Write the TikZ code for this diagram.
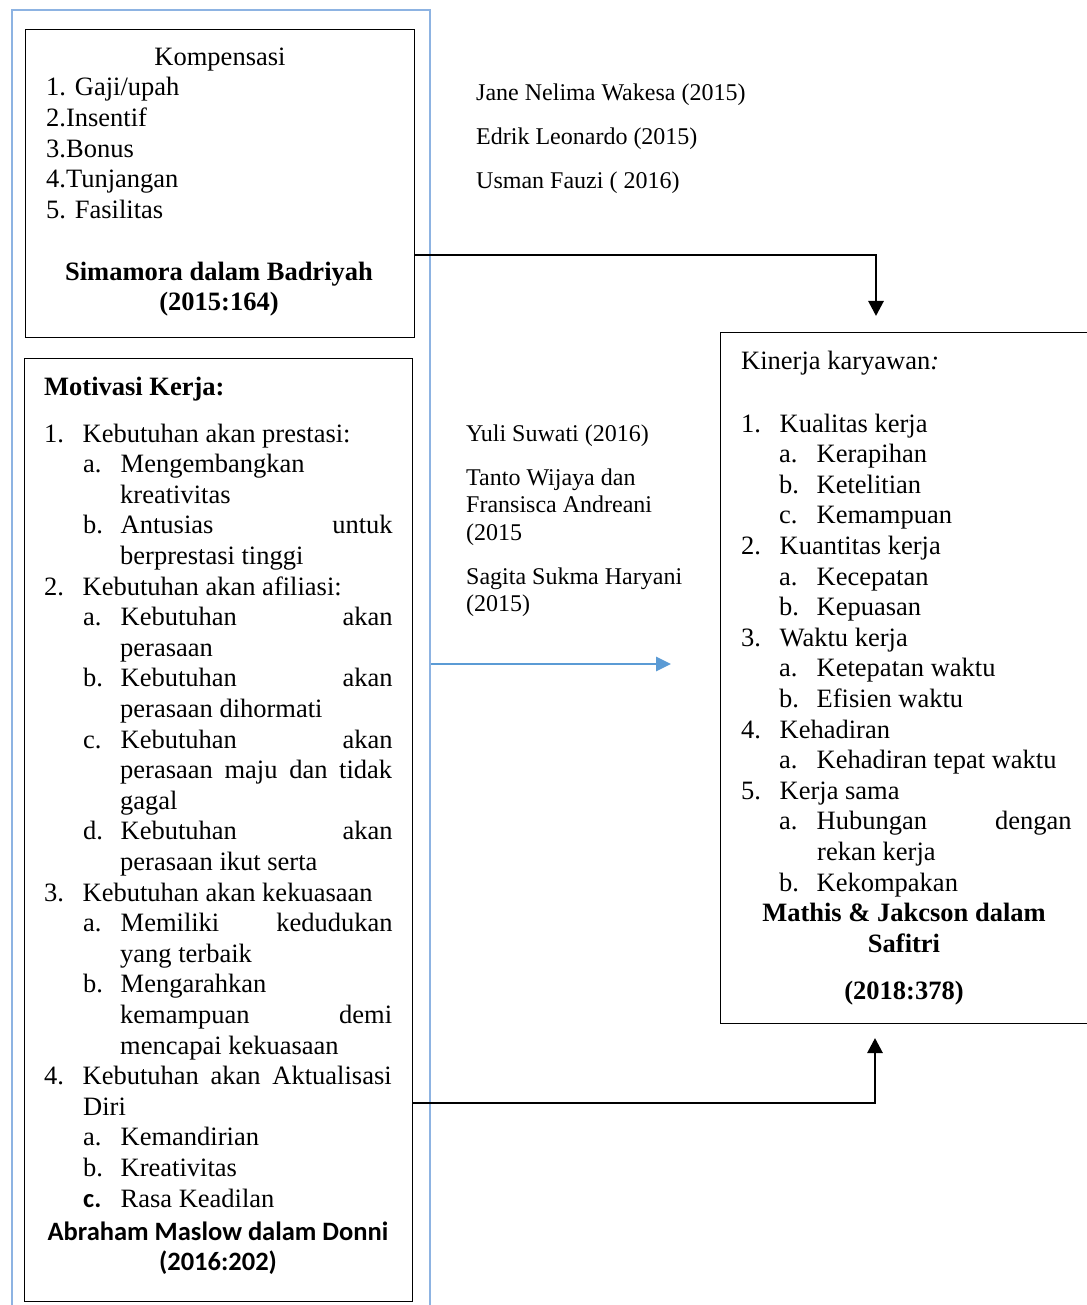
\documentclass[tikz,border=0pt]{standalone}
\usepackage{fontspec}
\setmainfont{Liberation Serif}
\newfontfamily\calibri{Carlito}
\usetikzlibrary{arrows.meta}

\definecolor{framebl}{HTML}{8DB3E2}
\definecolor{arrowbl}{HTML}{5B9BD5}

\tikzset{
  box/.style={draw=black, line width=1.2pt, inner sep=0pt, anchor=north west},
  txt/.style={anchor=base west, inner sep=0pt, yshift=-2pt, font=\fontsize{26.5}{30.6}\selectfont},
  ctxt/.style={anchor=base, inner sep=0pt, yshift=-2pt, font=\fontsize{26.5}{30.6}\selectfont},
  reftxt/.style={anchor=base west, inner sep=0pt, yshift=-2pt, font=\fontsize{24}{27.5}\selectfont},
  conn/.style={line width=2.8pt, -{Triangle[length=15pt,width=15pt]}},
  blueconn/.style={arrowbl, line width=2.8pt, -{Triangle[length=15pt,width=14pt]}},
}
\newcommand{\numb}[1]{\makebox[38.5pt][l]{#1}}
\newcommand{\lett}[1]{\makebox[37.5pt][l]{#1}}
\newcommand{\just}[2]{\makebox[#1pt][s]{#2}}

\begin{document}
\begin{tikzpicture}[x=1pt, y=-1pt]
    \useasboundingbox (0,0) rectangle (1086,1305);

    % Blue frame
    \draw[framebl, line width=1.5pt] (12,1310) -- (12,10) -- (430,10) -- (430,1310);

    % Boxes
    \node[box, minimum width=389pt, minimum height=308pt] (komp) at (25,29) {};
    \node[box, minimum width=388pt, minimum height=943pt] (mot) at (24,358) {};
    \node[box, minimum width=380pt, minimum height=691pt] (kin) at (720,332) {};

    % Kompensasi
    \node[ctxt] (kt) at (220,64) {Kompensasi};
    \node[txt] (k1) at (46,94) {1. Gaji/upah};
    \node[txt] (k2) at (46,124.6) {2.Insentif};
    \node[txt] (k3) at (46,155.2) {3.Bonus};
    \node[txt] (k4) at (46,185.8) {4.Tunjangan};
    \node[txt] (k5) at (46,216.4) {5. Fasilitas};
    \node[ctxt] (ksrc) at (219,278) {\textbf{Simamora dalam Badriyah}};
    \node[ctxt] (kyr) at (219,308.6) {\textbf{(2015:164)}};

    % Motivasi kerja
    \node[txt] (mt) at (44,393) {\textbf{Motivasi Kerja:}};
    \node[txt] (m1) at (44,440) {\numb{1.}Kebutuhan akan prestasi:};
    \node[txt] (m1a) at (83,470.6) {\lett{a.}Mengembangkan};
    \node[txt] (m1a2) at (120,501.2) {kreativitas};
    \node[txt] (m1b) at (83,531.8) {\lett{b.}\just{272}{Antusias untuk}};
    \node[txt] (m1b2) at (120,562.4) {berprestasi tinggi};
    \node[txt] (m2) at (44,593) {\numb{2.}Kebutuhan akan afiliasi:};
    \node[txt] (m2a) at (83,623.6) {\lett{a.}\just{272}{Kebutuhan akan}};
    \node[txt] (m2a2) at (120,654.2) {perasaan};
    \node[txt] (m2b) at (83,684.8) {\lett{b.}\just{272}{Kebutuhan akan}};
    \node[txt] (m2b2) at (120,715.4) {perasaan dihormati};
    \node[txt] (m2c) at (83,746) {\lett{c.}\just{272}{Kebutuhan akan}};
    \node[txt] (m2c2) at (120,776.6) {\just{272}{perasaan maju dan tidak}};
    \node[txt] (m2c3) at (120,807.2) {gagal};
    \node[txt] (m2d) at (83,837.8) {\lett{d.}\just{272}{Kebutuhan akan}};
    \node[txt] (m2d2) at (120,868.4) {perasaan ikut serta};
    \node[txt] (m3) at (44,899) {\numb{3.}Kebutuhan akan kekuasaan};
    \node[txt] (m3a) at (83,929.6) {\lett{a.}\just{272}{Memiliki kedudukan}};
    \node[txt] (m3a2) at (120,960.2) {yang terbaik};
    \node[txt] (m3b) at (83,990.8) {\lett{b.}Mengarahkan};
    \node[txt] (m3b2) at (120,1021.4) {\just{272}{kemampuan demi}};
    \node[txt] (m3b3) at (120,1052) {mencapai kekuasaan};
    \node[txt] (m4) at (44,1082.6) {\numb{4.}\just{309}{Kebutuhan akan Aktualisasi}};
    \node[txt] (m42) at (83,1113.2) {Diri};
    \node[txt] (m4a) at (83,1143.8) {\lett{a.}Kemandirian};
    \node[txt] (m4b) at (83,1174.4) {\lett{b.}Kreativitas};
    \node[txt] (m4c) at (83,1205) {\lett{{\calibri\bfseries c.}}Rasa Keadilan};
    \node[ctxt] (msrc) at (218,1238) {\calibri\bfseries Abraham Maslow dalam Donni};
    \node[ctxt] (myr) at (218,1268.6) {\calibri\bfseries (2016:202)};

    % Kinerja karyawan
    \node[txt] (kk) at (741,367) {Kinerja karyawan\textit{:}};
    \node[txt] (r1) at (741,430) {\numb{1.}Kualitas kerja};
    \node[txt] (r1a) at (779,460.6) {\lett{a.}Kerapihan};
    \node[txt] (r1b) at (779,491.2) {\lett{b.}Ketelitian};
    \node[txt] (r1c) at (779,521.8) {\lett{c.}Kemampuan};
    \node[txt] (r2) at (741,552.4) {\numb{2.}Kuantitas kerja};
    \node[txt] (r2a) at (779,583) {\lett{a.}Kecepatan};
    \node[txt] (r2b) at (779,613.6) {\lett{b.}Kepuasan};
    \node[txt] (r3) at (741,644.2) {\numb{3.}Waktu kerja};
    \node[txt] (r3a) at (779,674.8) {\lett{a.}Ketepatan waktu};
    \node[txt] (r3b) at (779,705.4) {\lett{b.}Efisien waktu};
    \node[txt] (r4) at (741,736) {\numb{4.}Kehadiran};
    \node[txt] (r4a) at (779,766.6) {\lett{a.}Kehadiran tepat waktu};
    \node[txt] (r5) at (741,797.2) {\numb{5.}Kerja sama};
    \node[txt] (r5a) at (779,827.8) {\lett{a.}\just{255}{Hubungan dengan}};
    \node[txt] (r5a2) at (817,858.4) {rekan kerja};
    \node[txt] (r5b) at (779,889) {\lett{b.}Kekompakan};
    \node[ctxt] (rsrc) at (904,919.6) {\textbf{Mathis \& Jakcson dalam}};
    \node[ctxt] (rsrc2) at (904,950.2) {\textbf{Safitri}};
    \node[ctxt] (ryr) at (904,997) {\textbf{(2018:378)}};

    % References
    \node[reftxt] (p1) at (476,99) {Jane Nelima Wakesa (2015)};
    \node[reftxt] (p2) at (476,143) {Edrik Leonardo (2015)};
    \node[reftxt] (p3) at (476,187) {Usman Fauzi ( 2016)};
    \node[reftxt] (q1) at (466,439) {Yuli Suwati (2016)};
    \node[reftxt] (q2) at (466,483) {Tanto Wijaya dan};
    \node[reftxt] (q22) at (466,510.5) {Fransisca Andreani};
    \node[reftxt] (q23) at (466,538) {(2015};
    \node[reftxt] (q3) at (466,582) {Sagita Sukma Haryani};
    \node[reftxt] (q32) at (466,609.5) {(2015)};

    % Connectors
    \coordinate (kintop) at (876,316);
    \coordinate (kinbot) at (875,1038);
    \coordinate (bluesrc) at (431,664);
    \coordinate (bluetip) at (671,664);
    \draw[conn] (komp.east |- 0,255) -| (kintop);
    \draw[conn] (mot.east |- 0,1103) -| (kinbot);
    \draw[blueconn] (bluesrc) -- (bluetip);
\end{tikzpicture}
\end{document}
